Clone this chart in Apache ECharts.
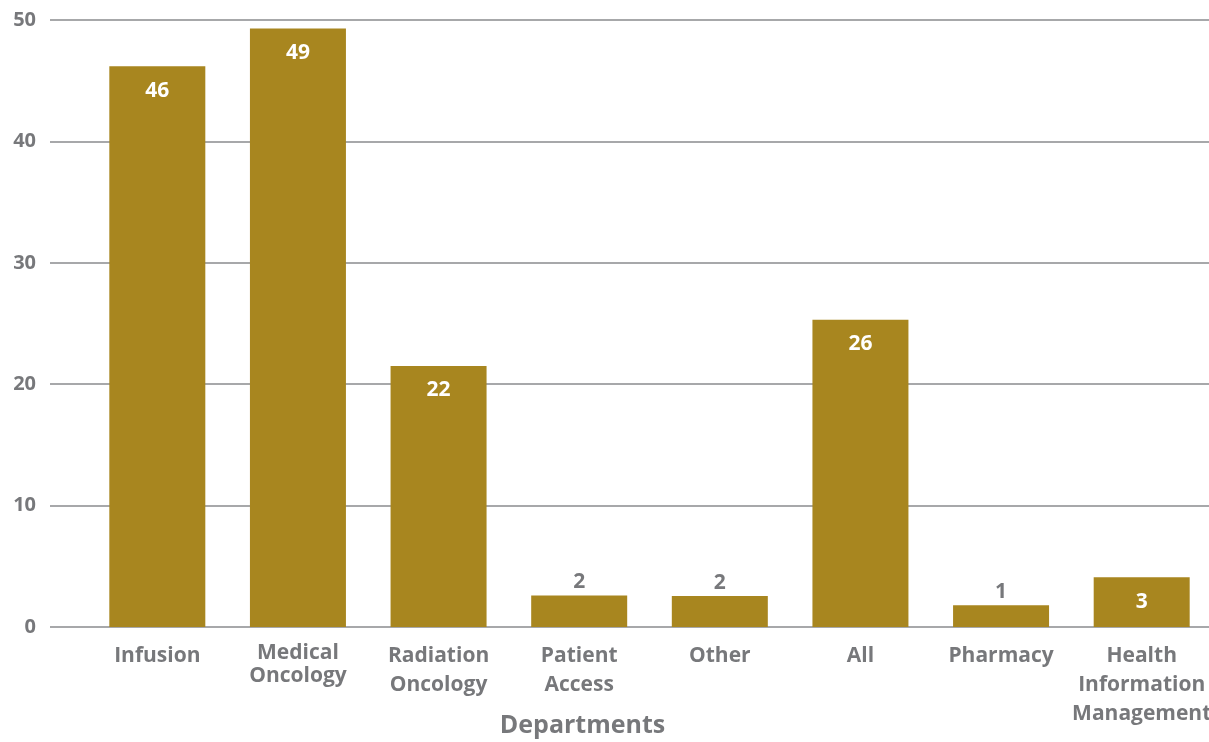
<!DOCTYPE html>
<html><head><meta charset="utf-8">
<script src="https://cdn.jsdelivr.net/npm/echarts@6/dist/echarts.min.js"></script>
<style>html,body{margin:0;padding:0;background:#fff}#c{width:1209px;height:742px}</style>
</head><body><div id="c"></div>
<script>
const categories = ['Infusion', 'Medical\nOncology', 'Radiation\nOncology', 'Patient\nAccess', 'Other', 'All', 'Pharmacy', 'Health\nInformation\nManagement'];
const barValues = [46.2, 49.3, 21.5, 2.6, 2.55, 25.3, 1.8, 4.1];
const valueLabels = ['46', '49', '22', '2', '2', '26', '1', '3'];
const labelInside = [true, true, true, false, false, true, false, true];
const yTicks = [0, 10, 20, 30, 40, 50];

const GRAY = '#77787B';
const GOLD = '#A8861F';
const FONT = 'Open Sans';

const chart = echarts.init(document.getElementById('c'));
chart.setOption({
  animation: false,
  grid: [
    {left: 50, right: 0, top: 20, bottom: 115, outerBoundsMode: 'none', containLabel: false},
    {left: 87, right: -3, top: 20, bottom: 115, outerBoundsMode: 'none', containLabel: false}
  ],
  xAxis: [
    {gridIndex: 0, type: 'category', data: categories, show: false},
    {gridIndex: 1, type: 'category', data: categories.map((c, i) => ({
        value: c, textStyle: {lineHeight: i === 1 ? 23 : 29}})),
      axisLine: {show: false}, axisTick: {show: false},
      axisLabel: {interval: 0, color: GRAY, fontFamily: FONT, fontWeight: 'bold', fontSize: 21, margin: 15, lineHeight: 29},
      name: 'Departments', nameLocation: 'middle', nameGap: 86, nameMoveOverlap: false,
      nameTextStyle: {color: GRAY, fontFamily: FONT, fontWeight: 'bold', fontSize: 25, padding: [0, 134, 0, 0]}
    }
  ],
  yAxis: [
    {gridIndex: 0, type: 'value', min: yTicks[0], max: yTicks[yTicks.length - 1], interval: 10,
      axisLine: {show: false}, axisTick: {show: false},
      axisLabel: {color: GRAY, fontFamily: FONT, fontWeight: 'bold', fontSize: 20, margin: 14},
      splitLine: {show: true, lineStyle: {color: '#8a8b8e', width: 1.5}}},
    {gridIndex: 1, type: 'value', min: yTicks[0], max: yTicks[yTicks.length - 1], interval: 10, show: false}
  ],
  series: [{
    type: 'bar', xAxisIndex: 1, yAxisIndex: 1,
    data: barValues.map((v, i) => ({
      value: v,
      label: labelInside[i]
        ? {position: 'insideTop', distance: 14, color: '#ffffff'}
        : {position: 'top', distance: 3, color: GRAY}
    })),
    barWidth: 96,
    itemStyle: {color: GOLD},
    label: {show: true, fontFamily: FONT, fontWeight: 'bold', fontSize: 21,
      formatter: p => valueLabels[p.dataIndex]}
  }]
});
</script></body></html>
